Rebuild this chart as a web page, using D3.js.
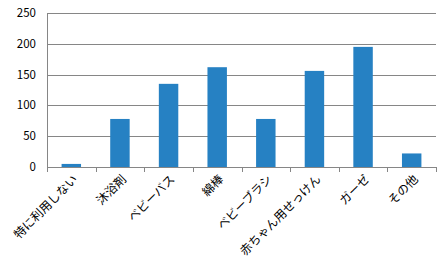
<!DOCTYPE html>
<html>
<head>
<meta charset="utf-8">
<script src="https://cdn.jsdelivr.net/npm/d3@7"></script>
<style>
  body { margin: 0; background: #fff; }
  svg text { font-family: "Noto Sans CJK JP", sans-serif; fill: #000; }
</style>
</head>
<body>
<svg id="chart" width="448" height="262"></svg>
<script>
const categories = ['特に利用しない', '沐浴剤', 'ベビーバス', '綿棒', 'ベビーブラシ', '赤ちゃん用せっけん', 'ガーゼ', 'その他']
const values = [5, 78, 135, 162, 78, 156, 195, 22]
const yTicks = [0, 50, 100, 150, 200, 250]

const svg = d3.select('#chart')
const plotL = 47, plotR = 436, plotT = 13, plotB = 167

const x = d3.scaleBand()
    .domain(categories)
    .range([plotL, plotR])
    .paddingInner(0.6)
    .paddingOuter(0.3)
const xb = d3.scaleBand().domain(categories).range([plotL, plotR])
const y = d3.scaleLinear().domain([0, 250]).range([plotB, plotT])

// grid lines
svg.append('g')
    .selectAll('line')
    .data(yTicks)
    .join('line')
    .attr('x1', plotL)
    .attr('x2', plotR)
    .attr('y1', d => Math.round(y(d)) + 0.5)
    .attr('y2', d => Math.round(y(d)) + 0.5)
    .attr('stroke', '#868686')

// y axis line
svg.append('line')
    .attr('x1', plotL + 0.5).attr('x2', plotL + 0.5)
    .attr('y1', plotT).attr('y2', plotB + 5)
    .attr('stroke', '#868686')

// x ticks
svg.append('g')
    .selectAll('line')
    .data(categories.concat(['end']))
    .join('line')
    .attr('x1', (d, i) => Math.round(plotL + i * xb.bandwidth()) + 0.5)
    .attr('x2', (d, i) => Math.round(plotL + i * xb.bandwidth()) + 0.5)
    .attr('y1', plotB)
    .attr('y2', plotB + 5)
    .attr('stroke', '#868686')

// bars
svg.append('g')
    .selectAll('rect')
    .data(values)
    .join('rect')
    .attr('x', (d, i) => x(categories[i]))
    .attr('width', x.bandwidth())
    .attr('y', d => y(d))
    .attr('height', d => y(0) - y(d))
    .attr('fill', '#2681c3')

// y labels
svg.append('g')
    .selectAll('text')
    .data(yTicks)
    .join('text')
    .attr('x', 36)
    .attr('y', d => y(d))
    .attr('dy', '0.35em')
    .attr('text-anchor', 'end')
    .attr('font-size', 11.5)
    .text(d => d)

// x labels
svg.append('g')
    .selectAll('text')
    .data(categories)
    .join('text')
    .attr('transform', d => 'translate(' + (xb(d) + xb.bandwidth() / 2 + 4) + ',' + (plotB + 10) + ') rotate(-45)')
    .attr('text-anchor', 'end')
    .attr('dy', '0.35em')
    .attr('font-size', 12)
    .text(d => d)
</script>
</body>
</html>
